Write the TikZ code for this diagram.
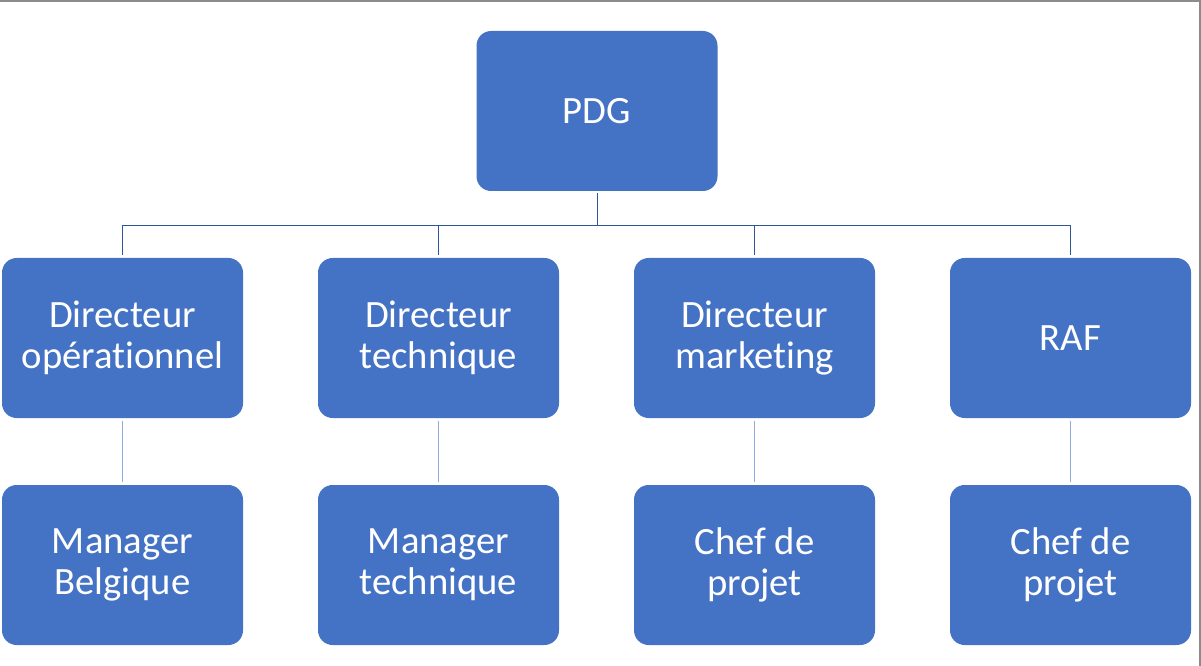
\documentclass[tikz,border=0pt]{standalone}
\usepackage{fontspec}
\setmainfont{Carlito}[Ligatures=NoCommon]

\definecolor{boxblue}{HTML}{4472C4}
\definecolor{linedark}{HTML}{2F5597}
\definecolor{linelight}{HTML}{8FAADC}
\definecolor{frame}{HTML}{8C8C8C}

\tikzset{
    orgbox/.style={fill=boxblue, draw=none, rounded corners=11pt,
        minimum width=180.75pt, minimum height=120pt, inner sep=0pt,
        text=white, align=center, font=\fontsize{29}{31}\selectfont},
    toplink/.style={draw=linedark, line width=0.75pt, shorten <=1.5pt, shorten >=1.7pt},
    sublink/.style={draw=linelight, line width=1pt, shorten <=2.25pt, shorten >=2.25pt}
}

\begin{document}
\begin{tikzpicture}[x=0.75pt,y=-0.75pt]
    \useasboundingbox (0,0) rectangle (1201,666);
    \draw[frame, line width=1pt] (0,1) -- (1200,1) -- (1200,666);

    \node[orgbox] (pdg) at (597,111) {PDG};

    \node[orgbox] (dirop) at (122.5,338) {Directeur\\opérationnel};
    \node[orgbox] (dirtech) at (438.5,338) {Directeur\\technique};
    \node[orgbox] (dirmkt) at (754.5,338) {Directeur\\marketing};
    \node[orgbox] (raf) at (1070.5,338) {RAF};

    \node[orgbox] (mgrbe) at (122.5,565) {Manager\\Belgique};
    \node[orgbox] (mgrtech) at (438.5,565) {Manager\\technique};
    \node[orgbox] (chefmkt) at (754.5,565) {Chef de\\projet};
    \node[orgbox] (chefraf) at (1070.5,565) {Chef de\\projet};

    % PDG to directors
    \foreach \d in {dirop,dirtech,dirmkt,raf}
      \draw[toplink] (pdg.south) -- ++(0,34) -| (\d.north);

    % directors to their staff
    \draw[sublink] (dirop) -- (mgrbe);
    \draw[sublink] (dirtech) -- (mgrtech);
    \draw[sublink] (dirmkt) -- (chefmkt);
    \draw[sublink] (raf) -- (chefraf);
\end{tikzpicture}
\end{document}
